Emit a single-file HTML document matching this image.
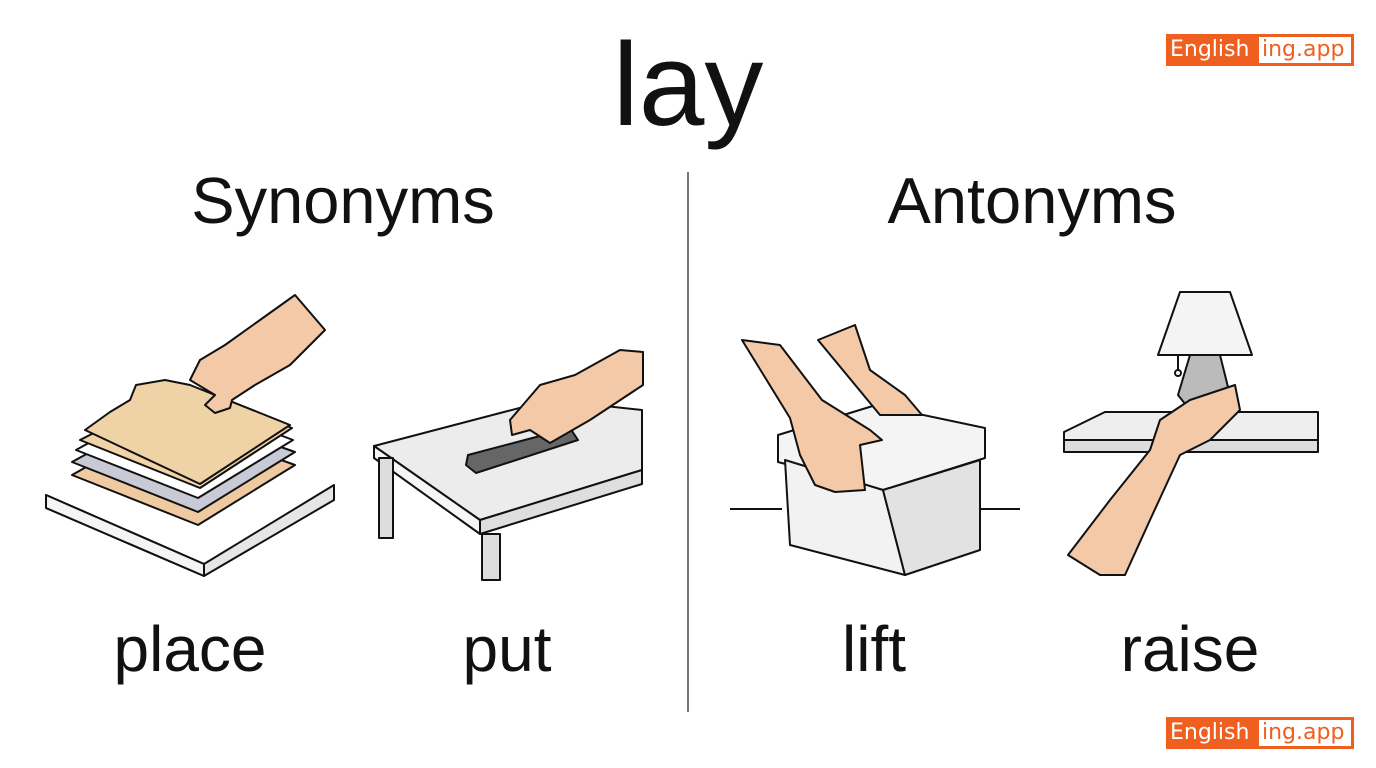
<!DOCTYPE html>
<html><head><meta charset="utf-8"><style>
html,body{margin:0;padding:0;background:#fff;}
body{width:1376px;height:768px;position:relative;overflow:hidden;font-family:"Liberation Sans","DejaVu Sans",sans-serif;color:#111;}
.t{position:absolute;transform:translateX(-50%);white-space:nowrap;line-height:1;}
.logo{position:absolute;left:1166px;width:188px;height:32px;font-family:"DejaVu Sans",sans-serif;font-size:22px;}
.logo .a{position:absolute;left:0;top:0;width:90px;height:32px;background:#ef5f1f;color:#fff;padding-left:4px;box-sizing:border-box;line-height:32px;}
.logo .b{position:absolute;left:90px;top:0;width:98px;height:32px;border:3px solid #ef5f1f;box-sizing:border-box;color:#ef5f1f;line-height:26px;padding-left:3px;}
</style></head><body>
<div class="t" style="left:688px;top:26px;font-size:118px;">lay</div>
<div class="t" style="left:343px;top:168px;font-size:65px;">Synonyms</div>
<div class="t" style="left:1032px;top:168px;font-size:65px;">Antonyms</div>
<div class="t" style="left:190px;top:617px;font-size:64px;">place</div>
<div class="t" style="left:507px;top:617px;font-size:64px;">put</div>
<div class="t" style="left:874px;top:617px;font-size:64px;">lift</div>
<div class="t" style="left:1190px;top:617px;font-size:64px;">raise</div>
<div style="position:absolute;left:687px;top:172px;width:2px;height:540px;background:#777;"></div>
<div class="logo" style="top:34px;"><div class="a">English</div><div class="b">ing.app</div></div>
<div class="logo" style="top:717px;"><div class="a">English</div><div class="b">ing.app</div></div>
<svg width="1376" height="768" style="position:absolute;left:0;top:0" stroke="#111" stroke-width="2" stroke-linejoin="round">
<polygon points="46,495 204,564 334,485 334,500 204,576 46,508" fill="#e6e6e6"/>
<polygon points="46,495 204,564 204,576 46,508" fill="#f4f4f4"/>
<polygon points="72,475 198,525 295,465 170,420" fill="#efc9a0"/>
<polygon points="72,462 198,512 295,452 170,408" fill="#c8cad6"/>
<polygon points="76,450 198,498 293,440 175,395" fill="#fff"/>
<polygon points="80,440 200,488 292,428 186,386" fill="#f1d4a8"/>
<polygon points="85,430 110,412 130,400 136,385 165,380 190,385 290,425 200,484" fill="#efd2a6"/>
<path d="M295,295 L325,330 L290,365 L255,385 L232,400 L230,408 L215,413 L205,405 L215,395 L190,380 L200,360 L225,345 L260,320 Z" fill="#f3c9a8"/>
<polygon points="374,446 480,520 642,470 642,410 550,400" fill="#ececec"/>
<polygon points="374,446 480,520 480,534 374,458" fill="#f6f6f6"/>
<polygon points="480,520 642,470 642,484 480,534" fill="#dedede"/>
<rect x="379" y="458" width="14" height="80" fill="#ddd"/>
<rect x="482" y="534" width="18" height="46" fill="#ddd"/>
<polygon points="468,455 570,428 578,440 476,473 466,465" fill="#666"/>
<path d="M643,352 L620,350 L575,375 L540,385 L510,420 L512,435 L530,430 L550,443 L590,420 L643,385 Z" fill="#f3c9a8"/>
<line x1="730" y1="509" x2="782" y2="509"/><line x1="980" y1="509" x2="1020" y2="509"/>
<polygon points="778,435 876,405 985,428 985,458 883,490 778,462" fill="#f4f4f4"/>
<polygon points="785,460 883,490 905,575 790,545" fill="#f2f2f2"/>
<polygon points="883,490 980,460 980,550 905,575" fill="#e2e2e2"/>
<path d="M742,340 L780,345 L822,400 L870,430 L882,440 L860,445 L865,490 L835,492 L815,485 L800,455 L790,418 Z" fill="#f3c9a8"/>
<path d="M818,340 L855,325 L870,370 L905,395 L922,415 L880,415 Z" fill="#f3c9a8"/>
<polygon points="1064,432 1105,412 1318,412 1318,440 1064,440" fill="#eee"/>
<rect x="1064" y="440" width="254" height="12" fill="#ddd"/>
<polygon points="1180,292 1230,292 1252,355 1158,355" fill="#f4f4f4"/>
<path d="M1190,355 L1220,355 L1230,395 L1220,410 L1190,410 L1178,395 Z" fill="#bbb"/>
<line x1="1178" y1="355" x2="1178" y2="370"/><circle cx="1178" cy="373" r="3" fill="#fff"/>
<path d="M1068,555 L1110,500 L1150,450 L1160,420 L1190,400 L1235,385 L1240,410 L1210,440 L1180,455 L1150,520 L1125,575 L1100,575 Z" fill="#f3c9a8"/>
</svg>
</body></html>
